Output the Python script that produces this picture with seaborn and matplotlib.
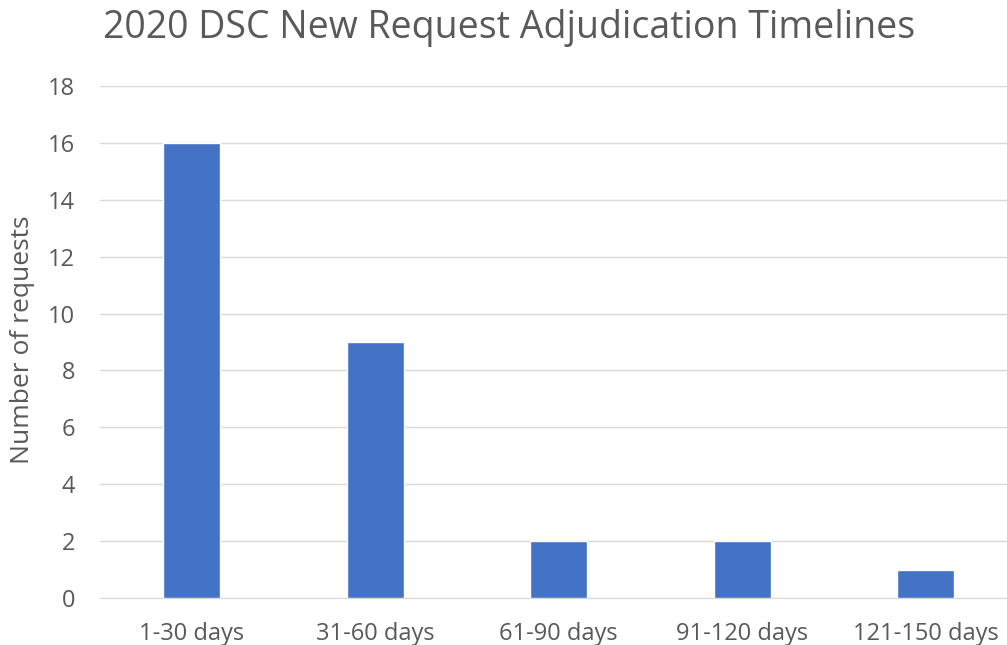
import matplotlib
matplotlib.use("Agg")
import matplotlib.pyplot as plt
import seaborn as sns
import pandas as pd

categories = ["1-30 days", "31-60 days", "61-90 days", "91-120 days", "121-150 days"]
counts = [16, 9, 2, 2, 1]
yticks = [0, 2, 4, 6, 8, 10, 12, 14, 16, 18]

sns.set_style("white")
plt.rcParams['font.family'] = ['Open Sans', 'DejaVu Sans']

df = pd.DataFrame({"cat": categories, "n": counts})

fig = plt.figure(figsize=(10.07, 6.45), dpi=100)
ax = fig.add_axes([100/1007, 47/645, 917.5/1007, 512/645])
sns.barplot(data=df, x="cat", y="n", color="#4472C4", width=0.31, saturation=1, ax=ax, zorder=3)

ax.set_ylim(0, 18)
ax.set_yticks(yticks)
ax.set_xlim(-0.5, 4.5)
ax.grid(axis="y", color="#d9d9d9", linewidth=1, zorder=0)
for s in ["top", "right", "left"]:
    ax.spines[s].set_visible(False)
ax.spines["bottom"].set_color("#d9d9d9")
ax.tick_params(axis="both", length=0, labelsize=17, labelcolor="#595959")
ax.tick_params(axis="x", pad=17)
ax.tick_params(axis="y", pad=18)
ax.set_xlabel("")
ax.set_ylabel("")
fig.text(23/1007, 1 - 340/645, "Number of requests", fontsize=19, color="#595959",
         rotation=90, ha="center", va="center")
fig.text(103/1007, 1 - 28/645, "2020 DSC New Request Adjudication Timelines",
         fontsize=27, color="#595959", va="center", ha="left")

fig.savefig("out.png", dpi=100, facecolor="white")
